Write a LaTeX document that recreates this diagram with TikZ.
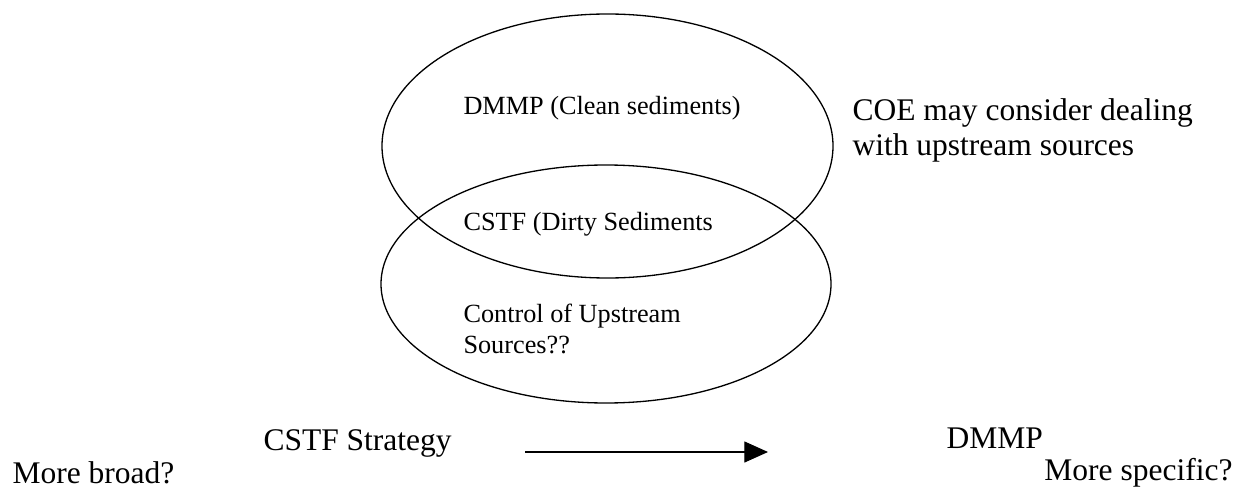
\documentclass[tikz,border=0pt]{standalone}
\usepackage{fontspec}
\setmainfont{Liberation Serif}
\usetikzlibrary{arrows.meta}
\tikzset{small text/.style={
		anchor=base west, inner sep=0pt, align=left,
		font=\fontsize{10}{11.8}\selectfont
}}
\tikzset{large text/.style={
		anchor=base west, inner sep=0pt, align=left,
		font=\fontsize{12}{13.3}\selectfont
}}
\tikzset{set line/.style={line width=0.5pt}}
\begin{document}
\begin{tikzpicture}[x=0.381pt, y=-0.381pt]
  \useasboundingbox (0,0) rectangle (1238,490);

  \draw[set line] (607.5,146) ellipse [x radius=225.5, y radius=132];
  \draw[set line] (606,284) ellipse [x radius=225, y radius=119];

  \node[small text] (clean) at (463,115) {DMMP (Clean sediments)};
  \node[small text] (dirty) at (463,230) {CSTF (Dirty Sediments};
  \node[small text] (upstream) at (463,353) {Control of Upstream\\Sources??};
  \node[large text] (coe) at (852,155) {COE may consider dealing\\with upstream sources};

  \node[large text] (strategy) at (263,450) {CSTF Strategy};
  \node[large text] (dmmp) at (946,448) {DMMP};
  \node[large text] (broad) at (12,483) {More broad?};
  \node[large text, anchor=base east] (specific) at (1233,480) {More specific?};

  \coordinate (arrow start) at (525,452);
  \coordinate (arrow end) at (768,452);
  \draw[-{Triangle[length=9pt, width=8pt]}] (arrow start) -- (arrow end);
\end{tikzpicture}
\end{document}
